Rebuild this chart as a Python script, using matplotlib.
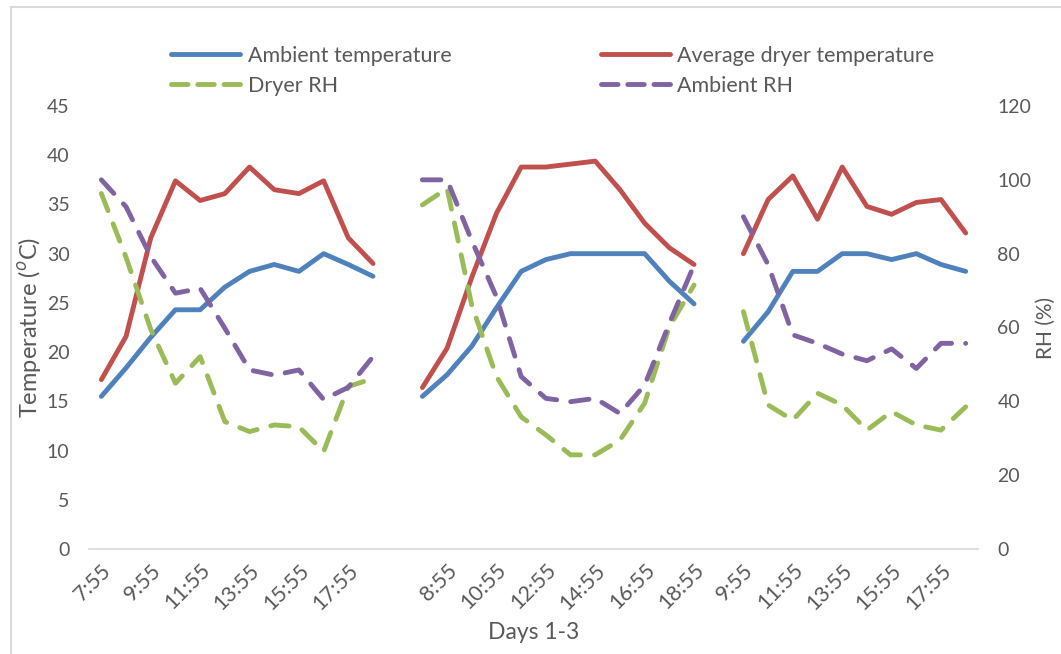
import numpy as np
import matplotlib.pyplot as plt
from matplotlib.lines import Line2D

plt.rcParams['font.family'] = ['Lato', 'DejaVu Sans']

# category labels (hourly, three days, one blank gap between days)
day1_times = ['7:55', '8:55', '9:55', '10:55', '11:55', '12:55', '13:55', '14:55',
              '15:55', '16:55', '17:55', '18:55']
day2_times = ['7:55', '8:55', '9:55', '10:55', '11:55', '12:55', '13:55', '14:55',
              '15:55', '16:55', '17:55', '18:55']
day3_times = ['9:55', '10:55', '11:55', '12:55', '13:55', '14:55', '15:55', '16:55',
              '17:55', '18:55']

# temperatures (deg C)
amb_temp_d1 = [15.5, 18.4, 21.5, 24.3, 24.3, 26.6, 28.2, 28.9, 28.2, 30.0, 28.9, 27.7]
amb_temp_d2 = [15.5, 17.7, 20.6, 24.5, 28.2, 29.4, 30.0, 30.0, 30.0, 30.0, 27.2, 24.9]
amb_temp_d3 = [21.1, 24.1, 28.2, 28.2, 30.0, 30.0, 29.4, 30.0, 28.9, 28.2]

dry_temp_d1 = [17.2, 21.6, 31.6, 37.4, 35.4, 36.1, 38.8, 36.5, 36.1, 37.4, 31.6, 29.0]
dry_temp_d2 = [16.4, 20.4, 27.6, 34.1, 38.8, 38.8, 39.1, 39.4, 36.5, 33.1, 30.6, 28.9]
dry_temp_d3 = [30.0, 35.5, 37.9, 33.5, 38.8, 34.8, 34.0, 35.2, 35.5, 32.1]

# relative humidity (%)
dry_rh_d1 = [96.3, 79.0, 59.5, 44.9, 52.1, 34.5, 31.8, 33.6, 33.1, 26.4, 44.0, 46.2]
dry_rh_d2 = [93.2, 97.7, 66.0, 46.7, 35.8, 30.9, 25.5, 25.5, 29.5, 39.5, 60.2, 71.5]
dry_rh_d3 = [64.3, 39.0, 34.9, 42.2, 39.0, 32.2, 37.2, 33.6, 32.2, 38.5]

amb_rh_d1 = [100.0, 92.7, 79.2, 69.3, 70.6, 59.8, 48.5, 47.1, 48.5, 40.5, 43.8, 52.1]
amb_rh_d2 = [100.0, 100.0, 83.5, 68.3, 46.7, 40.8, 39.9, 40.8, 36.7, 44.4, 61.1, 76.9]
amb_rh_d3 = [90.0, 77.0, 58.0, 55.7, 52.8, 51.0, 54.2, 48.9, 55.7, 55.7]

c_blue = '#4F81BD'
c_red = '#C0504D'
c_green = '#9BBB59'
c_purple = '#8064A2'
txt = '#595959'

labels = day1_times + [''] + day2_times + [''] + day3_times
n = len(labels)
x1 = np.arange(len(day1_times))
x2 = np.arange(len(day2_times)) + len(day1_times) + 1
x3 = np.arange(len(day3_times)) + len(day1_times) + len(day2_times) + 2

fig = plt.figure(figsize=(10.61, 6.54), dpi=100)
ax = fig.add_axes([0.0839, 0.1606, 0.8379, 0.6773])
ax2 = ax.twinx()

lw = 3.5
dash = (3.8, 2.9)
for xs, ys in [(x1, amb_temp_d1), (x2, amb_temp_d2), (x3, amb_temp_d3)]:
    ax.plot(xs, ys, color=c_blue, lw=lw, solid_capstyle='round', solid_joinstyle='round')
for xs, ys in [(x1, dry_temp_d1), (x2, dry_temp_d2), (x3, dry_temp_d3)]:
    ax.plot(xs, ys, color=c_red, lw=lw, solid_capstyle='round', solid_joinstyle='round')
for xs, ys in [(x1, dry_rh_d1), (x2, dry_rh_d2), (x3, dry_rh_d3)]:
    ax2.plot(xs, ys, color=c_green, lw=lw, linestyle=(0, dash), dash_capstyle='round',
             dash_joinstyle='round')
for xs, ys in [(x1, amb_rh_d1), (x2, amb_rh_d2), (x3, amb_rh_d3)]:
    ax2.plot(xs, ys, color=c_purple, lw=lw, linestyle=(0, dash), dash_capstyle='round',
             dash_joinstyle='round')

ax.set_xlim(-0.5, n - 0.5)
ax.set_ylim(0, 45)
ax.set_yticks(np.arange(0, 46, 5))
ax2.set_ylim(0, 120)
ax2.set_yticks(np.arange(0, 121, 20))

ax.set_xticks(np.arange(0, n, 2))
ax.set_xticklabels(labels[::2], rotation=45, ha='right', rotation_mode='anchor')

for a in (ax, ax2):
    for s in a.spines.values():
        s.set_visible(False)
    a.tick_params(length=0, labelsize=14, labelcolor=txt)
ax.spines['bottom'].set_visible(True)
ax.spines['bottom'].set_color('#D9D9D9')
ax.spines['bottom'].set_linewidth(1.2)
ax.tick_params(axis='x', pad=8, labelsize=15.5)
ax.tick_params(axis='y', pad=14)
ax2.tick_params(axis='y', pad=14)

ax.set_ylabel('Temperature ($^{o}$C)', fontsize=17, color=txt, labelpad=2)
ax2.set_ylabel('RH (%)', fontsize=15, color=txt, labelpad=3)
ax.set_xlabel('Days 1-3', fontsize=16.5, color=txt, labelpad=6)

leg_dash = (3.4, 2.0)
handles = [
    Line2D([], [], color=c_blue, lw=lw, solid_capstyle='round'),
    Line2D([], [], color=c_green, lw=lw, linestyle=(0, leg_dash), dash_capstyle='round'),
    Line2D([], [], color=c_red, lw=lw, solid_capstyle='round'),
    Line2D([], [], color=c_purple, lw=lw, linestyle=(0, leg_dash), dash_capstyle='round'),
]
names = ['Ambient temperature', 'Dryer RH', 'Average dryer temperature', 'Ambient RH']
fig.legend(handles, names, ncol=2, loc='upper left', bbox_to_anchor=(0.143, 0.96),
           frameon=False, fontsize=15.5, labelcolor=txt, handlelength=3.2,
           handletextpad=0.35, columnspacing=6.95, labelspacing=0.47)

# light border around the chart area
fig.add_artist(Line2D([0.0104, 1.0], [0.989, 0.989], color='#D9D9D9', lw=1.5))
fig.add_artist(Line2D([0.0104, 0.0104], [0.0, 0.989], color='#D9D9D9', lw=1.5))

fig.savefig('out.png', dpi=100, facecolor='white')
